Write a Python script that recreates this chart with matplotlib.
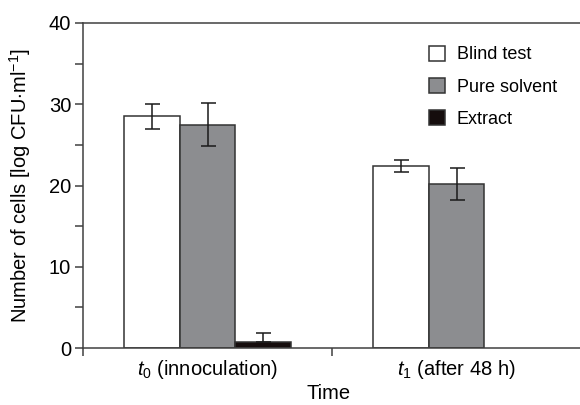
import matplotlib

matplotlib.use("Agg")
import matplotlib.pyplot as plt
import numpy as np

plt.rcParams["font.family"] = ["Liberation Sans", "DejaVu Sans"]
plt.rcParams["mathtext.fontset"] = "custom"
plt.rcParams["mathtext.rm"] = "Liberation Sans"
plt.rcParams["mathtext.it"] = "Liberation Sans:italic"

GROUPS = [r"$\it{t}_0$ (innoculation)", r"$\it{t}_1$ (after 48 h)"]
SERIES = ["Blind test", "Pure solvent", "Extract"]
MEANS = {
    "Blind test": [28.5, 22.4],
    "Pure solvent": [27.5, 20.2],
    "Extract": [0.7, np.nan],
}
ERR_LO = {
    "Blind test": [1.5, 0.7],
    "Pure solvent": [2.65, 2.0],
    "Extract": [0.0, np.nan],
}
ERR_HI = {
    "Blind test": [1.5, 0.7],
    "Pure solvent": [2.6, 2.0],
    "Extract": [1.15, np.nan],
}
COLORS = {"Blind test": "#ffffff", "Pure solvent": "#8c8d90", "Extract": "#150d0d"}

fig = plt.figure(figsize=(5.8, 4.05), dpi=100)
ax = fig.add_axes([83 / 580, 57 / 405, 498 / 580, 325 / 405])

x = np.arange(len(GROUPS))
width = 0.224
edge = "#333333"
for k, name in enumerate(SERIES):
    pos = x + (k - 1) * width
    vals = np.array(MEANS[name])
    ok = np.isfinite(vals)
    ax.bar(pos[ok], vals[ok], width, color=COLORS[name], edgecolor=edge,
           linewidth=1.1, label=name, zorder=2)
    ax.errorbar(pos[ok], vals[ok],
                yerr=[np.array(ERR_LO[name])[ok], np.array(ERR_HI[name])[ok]],
                fmt="none", ecolor="#1a1a1a", elinewidth=1.1, capsize=5.4,
                capthick=1.1, zorder=3)

ax.set_xlim(-0.5, 1.5)
ax.set_ylim(0, 40)
ax.set_yticks([0, 10, 20, 30, 40])
ax.set_yticks([5, 15, 25, 35], minor=True)
ax.set_xticks([-0.5, 0.5, 1.5])
ax.set_xticklabels([])
ax.set_xticks(x, minor=True)
ax.set_xticklabels(GROUPS, minor=True, fontsize=14.5)
ax.tick_params(axis="x", which="minor", length=0, pad=7)
ax.tick_params(axis="x", which="major", length=6, width=1.1, color="#404040")
ax.tick_params(axis="y", which="both", length=5.5, width=1.1, color="#404040",
               labelsize=14.5, pad=3)

for side in ("left", "bottom", "top"):
    ax.spines[side].set_color("#404040")
    ax.spines[side].set_linewidth(1.1)
ax.spines["right"].set_visible(False)
ax.spines["bottom"].set_bounds(-0.5, 1.5)

ax.set_ylabel(r"Number of cells [log CFU$\cdot$ml$^{-1}$]", fontsize=14.5)
ax.yaxis.set_label_coords(-0.1, 0.5)
ax.set_xlabel("Time", fontsize=14.5)
ax.xaxis.set_label_coords(0.494, -0.112)

ax.legend(loc="upper left", bbox_to_anchor=(0.694, 0.93), frameon=False,
          fontsize=13, handlelength=0.9, handleheight=0.9,
          handletextpad=0.65, labelspacing=0.8, borderpad=0,
          borderaxespad=0)

fig.savefig("out.png", dpi=100, facecolor="white")
